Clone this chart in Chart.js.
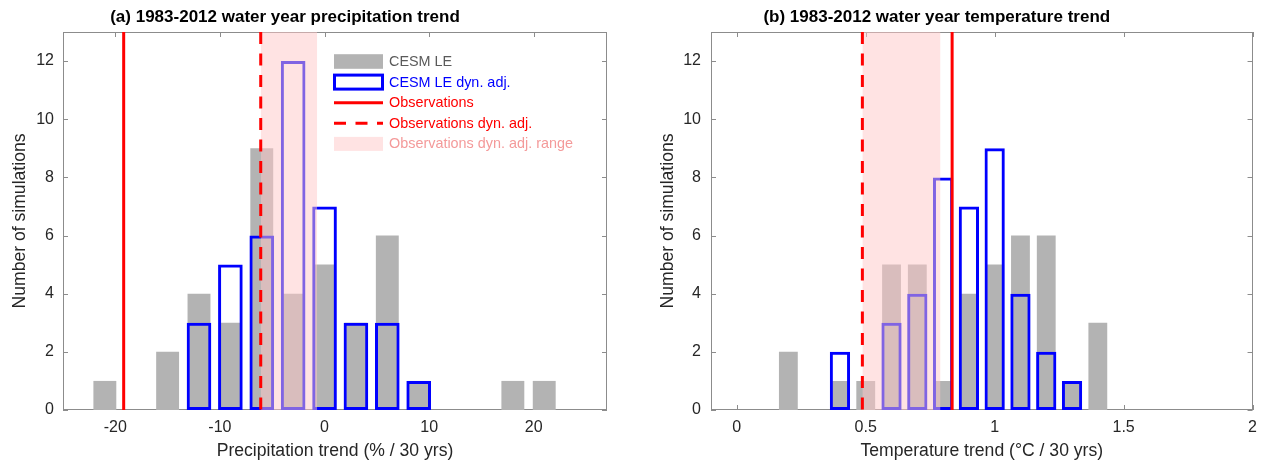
<!DOCTYPE html>
<html>
<head>
<meta charset="utf-8">
<script src="https://cdn.jsdelivr.net/npm/chart.js@4.4.1/dist/chart.umd.min.js"></script>
<style>
  html, body { margin: 0; padding: 0; background: #ffffff; width: 1265px; height: 465px; overflow: hidden; }
  #wa { position: absolute; left: 0; top: 0; width: 640px; height: 465px; }
  #wb { position: absolute; left: 640px; top: 0; width: 625px; height: 465px; }
</style>
</head>
<body>
<div id="wa"><canvas id="ca"></canvas></div>
<div id="wb"><canvas id="cb"></canvas></div>
<script>
// ---------- Panel (a): precipitation trend (% / 30 yrs) ----------
const precipBins      = [-21, -18, -15, -12, -9, -6, -3, 0, 3, 6, 9, 12, 15, 18, 21, 24];
const precipLE        = [  1,   0,   2,   4,  3,  9,  4, 5, 3, 6, 1,  0,  0,  1,  1,  0];
const precipDynAdj    = [  0,   0,   0,   3,  5,  6, 12, 7, 3, 3, 1,  0,  0,  0,  0,  0];
const precipObs       = -19.2;
const precipObsDynAdj = -6.1;
const precipObsRange  = [-6.1, -0.7];
const precipXTicks    = [-20, -10, 0, 10, 20];
const precipXRange    = [-25, 27];

// ---------- Panel (b): temperature trend (°C / 30 yrs) ----------
const tempBins        = [0, 0.1, 0.2, 0.3, 0.4, 0.5, 0.6, 0.7, 0.8, 0.9, 1.0, 1.1, 1.2, 1.3, 1.4, 1.5];
const tempLE          = [0, 0,   2,   0,   1,   1,   5,   5,   1,   4,   5,   6,   6,   1,   3,   0];
const tempDynAdj      = [0, 0,   0,   0,   2,   0,   3,   4,   8,   7,   9,   4,   2,   1,   0,   0];
const tempObs         = 0.835;
const tempObsDynAdj   = 0.487;
const tempObsRange    = [0.487, 0.79];
const tempXTicks      = [0, 0.5, 1, 1.5, 2];
const tempXRange      = [-0.1, 2];

// ---------- shared ----------
const yTicks = [0, 2, 4, 6, 8, 10, 12];
const yMax = 13;

const FONT = "'Liberation Sans', Arial, Helvetica, sans-serif";
const TICK_COLOR = '#262626';
const FRAME_COLOR = '#8c8c8c';
const GRAY = '#b3b3b3';
const BLUE = '#0000ff';
const RED = '#ff0000';
const SHADE = 'rgba(255,200,200,0.5)';

function toPoints(bins, counts) {
  const out = [];
  bins.forEach((b, i) => { if (counts[i] > 0) out.push({ x: b, y: counts[i] }); });
  return out;
}

const framePlugin = {
  id: 'frame',
  beforeDatasetsDraw(chart) {
    const { ctx, chartArea: a, scales: { x, y } } = chart;
    ctx.save();
    ctx.strokeStyle = FRAME_COLOR;
    ctx.lineWidth = 1;
    ctx.strokeRect(Math.round(a.left) + 0.5, Math.round(a.top) + 0.5,
                   Math.round(a.right - a.left) - 1, Math.round(a.bottom - a.top) - 1);
    ctx.beginPath();
    const L = 5;
    x.ticks.forEach((t, i) => {
      const px = Math.round(x.getPixelForTick(i)) + 0.5;
      ctx.moveTo(px, a.bottom); ctx.lineTo(px, a.bottom - L);
      ctx.moveTo(px, a.top); ctx.lineTo(px, a.top + L);
    });
    y.ticks.forEach((t, i) => {
      const py = Math.round(y.getPixelForTick(i)) + 0.5;
      ctx.moveTo(a.left, py); ctx.lineTo(a.left + L, py);
      ctx.moveTo(a.right, py); ctx.lineTo(a.right - L, py);
    });
    ctx.stroke();
    ctx.restore();
  }
};

const titlePlugin = {
  id: 'panelTitle',
  afterDraw(chart, args, opts) {
    const { ctx, chartArea: a } = chart;
    ctx.save();
    ctx.font = 'bold 17px ' + FONT;
    ctx.fillStyle = '#000000';
    ctx.textAlign = 'center';
    ctx.textBaseline = 'middle';
    ctx.fillText(opts.text, (a.left + a.right) / 2 + opts.shift, 17);
    ctx.restore();
  }
};

const legendItems = [
  { label: 'CESM LE',                      kind: 'fill',   color: GRAY,  text: '#5a5a5a' },
  { label: 'CESM LE dyn. adj.',            kind: 'box',    color: BLUE,  text: BLUE },
  { label: 'Observations',                 kind: 'line',   color: RED,   text: RED },
  { label: 'Observations dyn. adj.',       kind: 'dash',   color: RED,   text: RED },
  { label: 'Observations dyn. adj. range', kind: 'shade',  color: SHADE, text: '#f49a9a' }
];

const legendPlugin = {
  id: 'innerLegend',
  afterDraw(chart) {
    const { ctx, chartArea: a } = chart;
    const x0 = a.left + 271, w = 49, tx = x0 + w + 6;
    const y0 = a.top + 29.5, dy = 20.6;
    ctx.save();
    ctx.font = '14.4px ' + FONT;
    ctx.textBaseline = 'middle';
    ctx.textAlign = 'left';
    legendItems.forEach((it, i) => {
      const cy = y0 + i * dy;
      if (it.kind === 'fill') {
        ctx.fillStyle = it.color; ctx.fillRect(x0, cy - 7.3, w, 14.6);
      } else if (it.kind === 'box') {
        ctx.strokeStyle = it.color; ctx.lineWidth = 3; ctx.strokeRect(x0 + 0.5, cy - 7, w - 1, 14);
      } else if (it.kind === 'line' || it.kind === 'dash') {
        ctx.strokeStyle = it.color; ctx.lineWidth = 3;
        ctx.setLineDash(it.kind === 'dash' ? [12, 9.5] : []);
        ctx.beginPath(); ctx.moveTo(x0, cy); ctx.lineTo(x0 + w, cy); ctx.stroke();
        ctx.setLineDash([]);
      } else {
        ctx.fillStyle = it.color; ctx.fillRect(x0, cy - 7, w, 14);
      }
      ctx.fillStyle = it.text;
      ctx.fillText(it.label, tx, cy + 0.5);
    });
    ctx.restore();
  }
};

function makeChart(canvasId, p) {
  const tickFont = { family: FONT, size: 16 };
  const labelFont = { family: FONT, size: 17.6 };
  return new Chart(document.getElementById(canvasId), {
    type: 'bar',
    data: {
      datasets: [
        { type: 'line', label: 'Observations', data: [{ x: p.obs, y: yMax }, { x: p.obs, y: 0 }],
          borderColor: RED, borderWidth: 3, pointRadius: 0, fill: false, order: 0 },
        { type: 'line', label: 'Observations dyn. adj.', data: [{ x: p.obsAdj, y: yMax }, { x: p.obsAdj, y: 0 }],
          borderColor: RED, borderWidth: 3, borderDash: [12, 9.5], pointRadius: 0, fill: false, order: 1 },
        { type: 'line', label: 'Observations dyn. adj. range', data: [{ x: p.range[0], y: yMax }, { x: p.range[1], y: yMax }],
          borderColor: 'rgba(0,0,0,0)', borderWidth: 0, backgroundColor: SHADE, pointRadius: 0, fill: 'origin', order: 2 },
        { type: 'bar', label: 'CESM LE dyn. adj.', data: toPoints(p.bins, p.dyn),
          backgroundColor: 'rgba(0,0,0,0)', borderColor: BLUE, borderWidth: 3, borderSkipped: false,
          barPercentage: 0.785, categoryPercentage: 1, grouped: false, order: 3 },
        { type: 'bar', label: 'CESM LE', data: toPoints(p.bins, p.le),
          backgroundColor: GRAY, borderWidth: 0, barPercentage: 0.73, categoryPercentage: 1, grouped: false, order: 4 }
      ]
    },
    options: {
      responsive: true,
      maintainAspectRatio: false,
      animation: false,
      events: [],
      layout: { padding: { left: 0, right: p.padRight, top: 32, bottom: 0 } },
      plugins: {
        legend: { display: false },
        tooltip: { enabled: false },
        title: { display: false },
        panelTitle: { text: p.title, shift: p.titleShift }
      },
      scales: {
        x: {
          type: 'linear', min: p.xRange[0], max: p.xRange[1], offset: false,
          grid: { display: false, drawTicks: false }, border: { display: false },
          afterBuildTicks: (s) => { s.ticks = p.xTicks.map(v => ({ value: v })); },
          ticks: { font: tickFont, color: TICK_COLOR, padding: 8, maxRotation: 0, autoSkip: false,
                   callback: (v) => String(v) },
          title: { display: true, text: p.xTitle, color: TICK_COLOR, font: labelFont,
                   padding: { top: 0, bottom: 3.4 } },
          afterFit: (s) => { s.height = 55; }
        },
        y: {
          type: 'linear', min: 0, max: yMax,
          grid: { display: false, drawTicks: false }, border: { display: false },
          afterBuildTicks: (s) => { s.ticks = yTicks.map(v => ({ value: v })); },
          ticks: { font: tickFont, color: TICK_COLOR, padding: p.yTickPad, autoSkip: false,
                   callback: (v) => String(v) },
          title: { display: true, text: 'Number of simulations', color: TICK_COLOR,
                   font: labelFont, padding: { top: p.yTitlePad, bottom: 0 } },
          afterFit: (s) => { s.width = p.yWidth; }
        }
      }
    },
    plugins: p.legend ? [framePlugin, titlePlugin, legendPlugin] : [framePlugin, titlePlugin]
  });
}

makeChart('ca', {
  bins: precipBins, le: precipLE, dyn: precipDynAdj,
  obs: precipObs, obsAdj: precipObsDynAdj, range: precipObsRange,
  xTicks: precipXTicks, xRange: precipXRange,
  title: '(a) 1983-2012 water year precipitation trend', titleShift: -50,
  xTitle: 'Precipitation trend (% / 30 yrs)',
  padRight: 33, yWidth: 63, yTickPad: 9, yTitlePad: 9.4, legend: true
});

makeChart('cb', {
  bins: tempBins, le: tempLE, dyn: tempDynAdj,
  obs: tempObs, obsAdj: tempObsDynAdj, range: tempObsRange,
  xTicks: tempXTicks, xRange: tempXRange,
  title: '(b) 1983-2012 water year temperature trend', titleShift: -45,
  xTitle: 'Temperature trend (°C / 30 yrs)',
  padRight: 10, yWidth: 71, yTickPad: 10, yTitlePad: 17.4, legend: false
});
</script>
</body>
</html>
